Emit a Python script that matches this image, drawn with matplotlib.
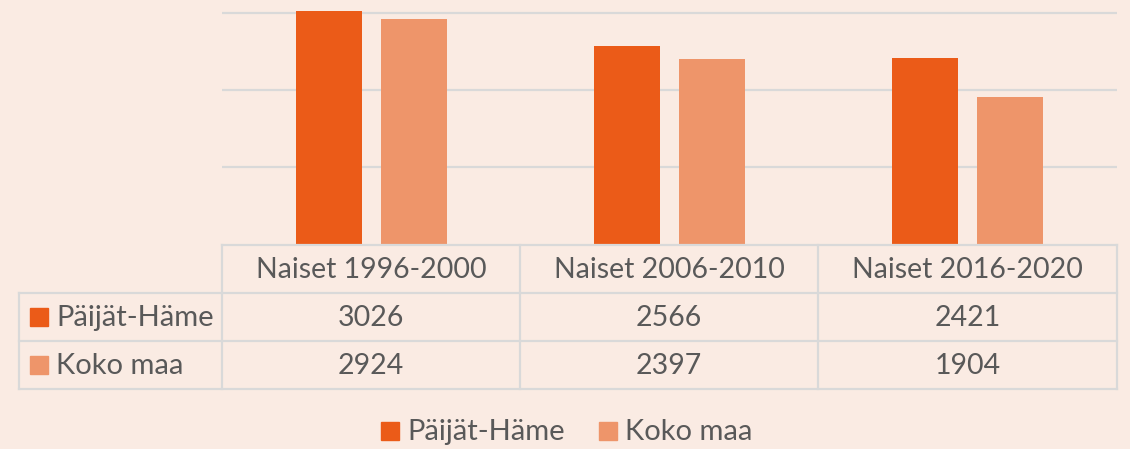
import matplotlib.pyplot as plt
from matplotlib.patches import Rectangle

categories = ["Naiset 1996-2000", "Naiset 2006-2010", "Naiset 2016-2020"]
series_names = ["Päijät-Häme", "Koko maa"]
paijat_hame = [3026, 2566, 2421]
koko_maa = [2924, 2397, 1904]

BG = "#FAEBE3"
COLORS = ["#EB5B18", "#EE956A"]
GRID = "#D9D9D9"
TEXT = "#595959"
FONT = "Lato"

W, H = 1130, 449
fig = plt.figure(figsize=(W / 100, H / 100), dpi=100, facecolor=BG)

# plot area in pixel coords (left, top, right, bottom)
left, top, right, base = 222, 0, 1117, 244
ax = fig.add_axes([left / W, 1 - base / H, (right - left) / W, (base - top) / H])
ax.set_facecolor(BG)
for s in ax.spines.values():
    s.set_visible(False)
ax.set_xlim(-0.5, len(categories) - 0.5)
ax.set_ylim(0, 3169)
ax.set_yticks([1000, 2000, 3000])
ax.yaxis.grid(True, color=GRID, linewidth=1.6)
ax.set_axisbelow(True)
ax.tick_params(left=False, bottom=False, labelleft=False, labelbottom=False)

xs = list(range(len(categories)))
width = 0.221
offset = 0.1425
ax.bar([x - offset for x in xs], paijat_hame, width=width, color=COLORS[0], zorder=2)
ax.bar([x + offset for x in xs], koko_maa, width=width, color=COLORS[1], zorder=2)

# overlay for data table and legend, in pixel coords
ov = fig.add_axes([0, 0, 1, 1], facecolor="none")
ov.set_xlim(0, W)
ov.set_ylim(H, 0)
ov.axis("off")

col_edges = [222, 520, 818, 1117]
row_edges = [245, 293, 341, 389]
tbl_left = 19
lw = 1.6
ov.plot([col_edges[0], col_edges[-1]], [row_edges[0]] * 2, color=GRID, lw=lw)
for y in row_edges[1:]:
    ov.plot([tbl_left, col_edges[-1]], [y, y], color=GRID, lw=lw)
ov.plot([tbl_left, tbl_left], [row_edges[1], row_edges[-1]], color=GRID, lw=lw)
for x in col_edges:
    ov.plot([x, x], [row_edges[0], row_edges[-1]], color=GRID, lw=lw)

fs = 20.5
for i, cat in enumerate(categories):
    cx = (col_edges[i] + col_edges[i + 1]) / 2
    ov.text(cx, (row_edges[0] + row_edges[1]) / 2 + 1, cat, ha="center", va="center",
            fontsize=fs, color=TEXT, family=FONT)
    for r, vals in enumerate([paijat_hame, koko_maa]):
        cy = (row_edges[r + 1] + row_edges[r + 2]) / 2 + 1
        ov.text(cx, cy, f"{vals[i]}", ha="center", va="center",
                fontsize=fs, color=TEXT, family=FONT)

for r, name in enumerate(series_names):
    cy = (row_edges[r + 1] + row_edges[r + 2]) / 2
    ov.add_patch(Rectangle((30, cy - 9), 18, 18, color=COLORS[r]))
    ov.text(56, cy + 1, name, ha="left", va="center", fontsize=21, color=TEXT, family=FONT)

# legend
legend_y = 431
for (sx, tx), name, color in zip([(381, 407), (599, 625)], series_names, COLORS):
    ov.add_patch(Rectangle((sx, legend_y - 9), 18, 18, color=color))
    ov.text(tx, legend_y + 1, name, ha="left", va="center", fontsize=21, color=TEXT, family=FONT)

fig.savefig("out.png", dpi=100, facecolor=BG)
